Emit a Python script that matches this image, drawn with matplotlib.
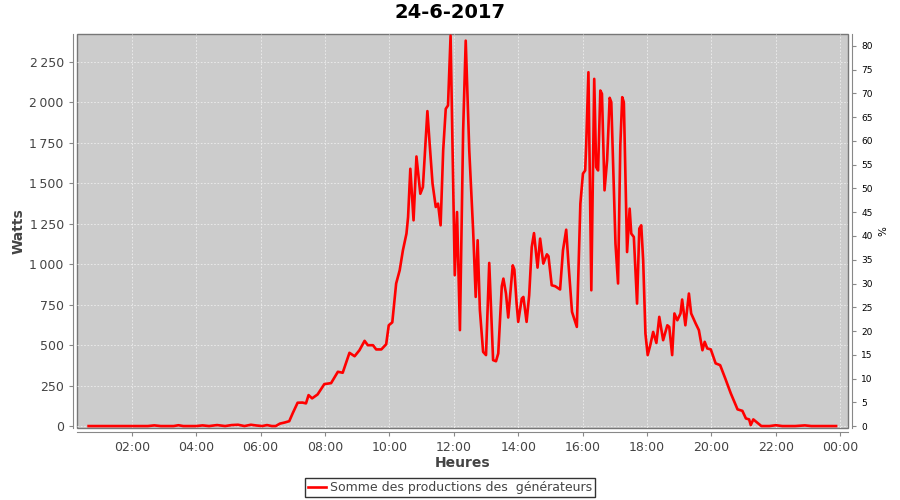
import matplotlib
matplotlib.use('Agg')
import matplotlib.pyplot as plt

# 数据 (heure décimale, watts)
heures = [0.66, 1.0, 1.5, 2.0, 2.5, 2.7, 2.9, 3.3, 3.45, 3.6, 4.0, 4.2, 4.4, 4.65, 4.9,
          5.1, 5.3, 5.5, 5.7, 5.85, 6.05, 6.2, 6.35, 6.47, 6.6, 6.75, 6.89, 7.0, 7.15, 7.3,
          7.41, 7.49, 7.6, 7.77, 7.98, 8.19, 8.40, 8.55, 8.76, 8.85, 8.92, 9.07, 9.23, 9.33,
          9.49, 9.59, 9.75, 9.90, 9.98, 10.09, 10.21, 10.32, 10.42, 10.53, 10.58, 10.65,
          10.75, 10.84, 10.96, 11.04, 11.18, 11.25, 11.34, 11.44, 11.51, 11.59, 11.67, 11.75,
          11.82, 11.9, 12.03, 12.1, 12.19, 12.29, 12.37, 12.48, 12.6, 12.68, 12.74, 12.81,
          12.91, 13.0, 13.1, 13.22, 13.31, 13.38, 13.49, 13.54, 13.62, 13.69, 13.83, 13.88,
          13.95, 14.0, 14.11, 14.16, 14.26, 14.34, 14.42, 14.49, 14.6, 14.68, 14.78, 14.89,
          14.94, 15.04, 15.15, 15.3, 15.39, 15.49, 15.56, 15.67, 15.82, 15.93, 16.01, 16.08,
          16.11, 16.18, 16.27, 16.36, 16.42, 16.48, 16.55, 16.6, 16.68, 16.76, 16.84, 16.89,
          17.02, 17.1, 17.17, 17.23, 17.28, 17.38, 17.46, 17.51, 17.59, 17.69, 17.76, 17.82,
          17.88, 17.95, 18.02, 18.1, 18.19, 18.29, 18.38, 18.5, 18.63, 18.69, 18.78, 18.85,
          18.94, 19.04, 19.09, 19.19, 19.3, 19.37, 19.51, 19.61, 19.72, 19.79, 19.87, 19.98,
          20.13, 20.27, 20.44, 20.6, 20.81, 20.96, 21.07, 21.17, 21.22, 21.3, 21.43, 21.55,
          21.8, 22.0, 22.2, 22.6, 22.9, 23.1, 23.5, 23.87]
watts = [0, 0, 0, 0, 0, 4, 0, 0, 5, 0, 0, 4, 0, 6, 0,
         6, 8, 0, 8, 4, 0, 6, 0, 0, 15, 22, 30, 80, 144, 145,
         140, 191, 171, 195, 259, 265, 335, 329, 452, 440, 431, 468, 526, 499,
         499, 473, 473, 505, 622, 640, 880, 962, 1085, 1188, 1290, 1588,
         1270, 1664, 1434, 1475, 1944, 1743, 1496, 1352, 1373, 1239, 1701, 1958,
         1979, 2410, 931, 1321, 592, 1825, 2379, 1701, 1208, 797, 1147, 715,
         458, 438, 1007, 407, 400, 448, 863, 910, 818, 670, 992, 966,
         756, 643, 787, 797, 643, 807, 1105, 1191, 978, 1157, 1003, 1060,
         1048, 869, 863, 843, 1085, 1212, 1003, 705, 612, 1373, 1558, 1578,
         1732, 2184, 838, 2143, 1598, 1578, 2071, 2051, 1455, 1640, 2026, 1999,
         1126, 880, 1732, 2030, 1999, 1074, 1342, 1188, 1167, 756, 1219, 1239,
         1023, 571, 438, 499, 581, 513, 674, 530, 622, 612, 438, 695,
         653, 695, 781, 622, 818, 695, 633, 592, 468, 520, 479, 473,
         387, 376, 288, 202, 103, 94, 47, 41, 6, 41, 20, 0,
         0, 5, 0, 0, 4, 0, 0, 0]

x_ticks = [2, 4, 6, 8, 10, 12, 14, 16, 18, 20, 22, 24]
x_labels = ['02:00', '04:00', '06:00', '08:00', '10:00', '12:00', '14:00', '16:00',
            '18:00', '20:00', '22:00', '00:00']
w_ticks = [0, 250, 500, 750, 1000, 1250, 1500, 1750, 2000, 2250]
w_labels = ['0', '250', '500', '750', '1\u2009000', '1\u2009250', '1\u2009500',
            '1\u2009750', '2\u2009000', '2\u2009250']
pct_ticks = list(range(0, 85, 5))

plt.rcParams['font.family'] = ['DejaVu Sans']
grey_txt = '#444444'
axis_grey = '#888888'

fig = plt.figure(figsize=(9, 5), dpi=100)
ax = fig.add_axes([77 / 900, 1 - 428 / 500, (848 - 77) / 900, (428 - 34) / 500])
ax.set_facecolor('#cccccc')
ax.patch.set_edgecolor('#777777')
ax.patch.set_linewidth(1.0)

line, = ax.plot(heures, watts, color='#ff0000', linewidth=1.9,
                label='Somme des productions des  générateurs')

ax.set_xlim(0.30, 24.24)
ax.set_ylim(-12, 2420)
ax.set_xticks(x_ticks)
ax.set_xticklabels(x_labels)
ax.set_yticks(w_ticks)
ax.set_yticklabels(w_labels)
ax.grid(True, color='#eeeeee', linestyle=(0, (2, 2)), linewidth=0.6)
ax.set_axisbelow(True)

for s in ['top', 'right']:
    ax.spines[s].set_visible(False)
for s in ['left', 'bottom']:
    ax.spines[s].set_position(('outward', 3))
    ax.spines[s].set_color(axis_grey)
ax.tick_params(axis='both', colors=axis_grey, labelcolor=grey_txt, labelsize=9,
               length=3, width=0.8)

ax.set_ylabel('Watts', fontsize=10, fontweight='bold', color=grey_txt, labelpad=3)
ax.set_xlabel('Heures', fontsize=10, fontweight='bold', color=grey_txt, labelpad=1)

# axe droit en %
ax2 = ax.twinx()
ax2.set_ylim(-0.4, 82.5)
ax2.set_yticks(pct_ticks)
for s in ['top', 'left', 'bottom']:
    ax2.spines[s].set_visible(False)
ax2.spines['right'].set_position(('outward', 3))
ax2.spines['right'].set_color(axis_grey)
ax2.tick_params(axis='y', colors=axis_grey, labelcolor='black', labelsize=6.5,
                length=3, width=0.8)
ax2.set_ylabel('%', fontsize=7.5, color='black', labelpad=4)

fig.suptitle('24-6-2017', fontsize=14, fontweight='bold', y=1 - 13 / 500, va='center')

leg = fig.legend(handles=[line], loc='center', bbox_to_anchor=(0.5, 1 - 487.5 / 500),
                 fontsize=9, frameon=True, fancybox=False, handlelength=1.4,
                 handletextpad=0.3, borderpad=0.25, borderaxespad=0)
leg.get_frame().set_edgecolor('black')
leg.get_frame().set_linewidth(1.0)
for t in leg.get_texts():
    t.set_color(grey_txt)

plt.savefig('out.png', dpi=100)
